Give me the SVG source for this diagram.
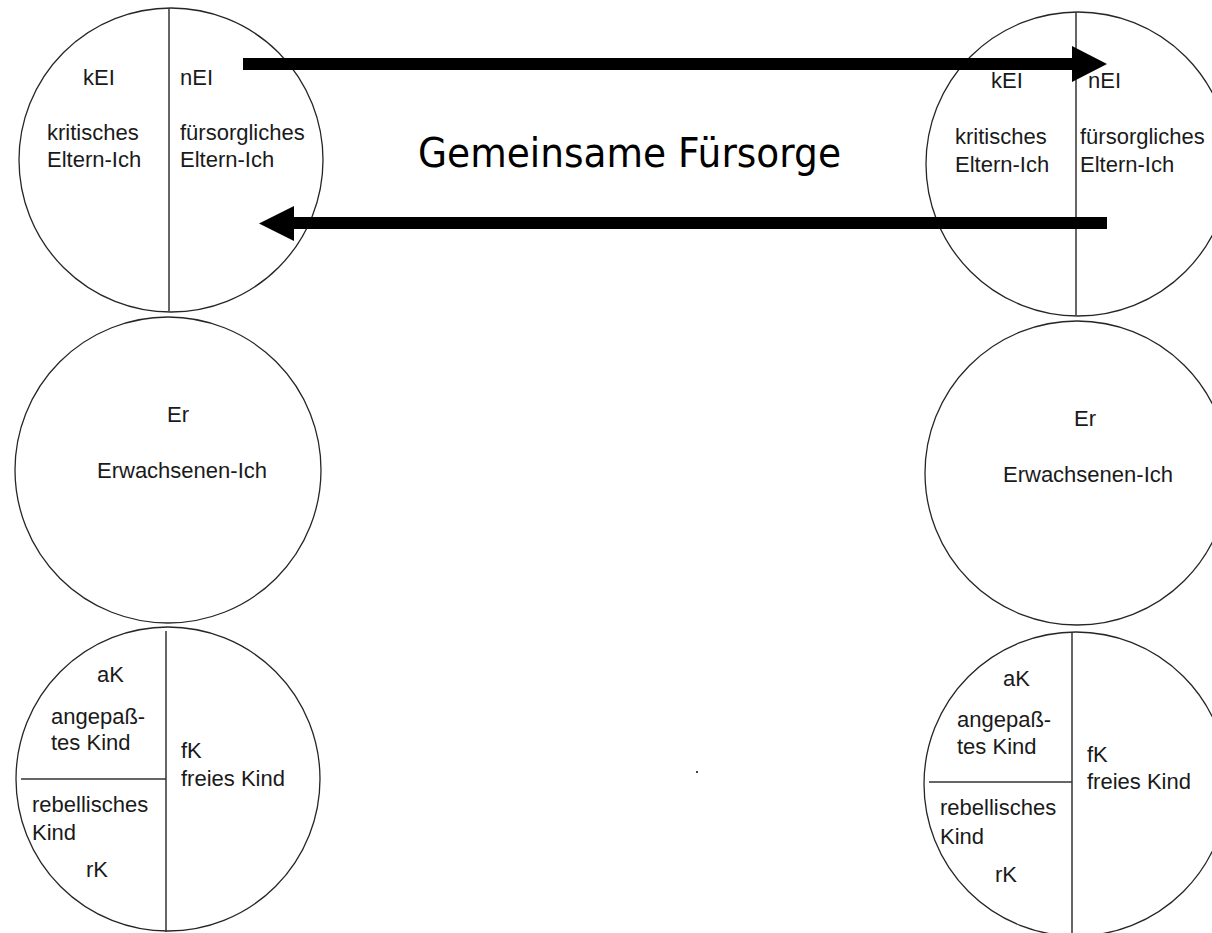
<svg xmlns="http://www.w3.org/2000/svg" width="1212" height="933" viewBox="0 0 1212 933">
<style>
.c{fill:none;stroke:#262626;stroke-width:1.3}
.d{stroke:#333;stroke-width:1.5}
.t{font-family:"Liberation Sans",Arial,sans-serif;font-size:22px;fill:#1a1a1a}
.title{font-family:"DejaVu Sans","Verdana",sans-serif;font-size:40px;fill:#000}
.arr{fill:#000}
</style>
<rect width="1212" height="933" fill="#fff"/>
<g id="left-parent">
<circle class="c" cx="171" cy="160" r="152"/>
<line class="d" x1="169" y1="8" x2="169" y2="311"/>
<text class="t" x="83" y="85">kEI</text>
<text class="t" x="180" y="85">nEI</text>
<text class="t" x="47" y="140">kritisches</text>
<text class="t" x="47" y="167">Eltern-Ich</text>
<text class="t" x="180" y="140">fürsorgliches</text>
<text class="t" x="180" y="167">Eltern-Ich</text>
</g>
<g id="left-adult">
<circle class="c" cx="168" cy="470" r="153"/>
<text class="t" x="167" y="422">Er</text>
<text class="t" x="97" y="478">Erwachsenen-Ich</text>
</g>
<g id="left-child">
<circle class="c" cx="168" cy="779" r="152"/>
<line class="d" x1="166" y1="631" x2="166" y2="932"/>
<line class="d" x1="21" y1="779" x2="166" y2="779"/>
<text class="t" x="97" y="682">aK</text>
<text class="t" x="51" y="724">angepaß-</text>
<text class="t" x="51" y="750">tes Kind</text>
<text class="t" x="181" y="758">fK</text>
<text class="t" x="181" y="786">freies Kind</text>
<text class="t" x="32" y="812">rebellisches</text>
<text class="t" x="32" y="840">Kind</text>
<text class="t" x="86" y="877">rK</text>
</g>
<g id="right-parent">
<circle class="c" cx="1078" cy="164" r="152"/>
<line class="d" x1="1076" y1="12" x2="1076" y2="315"/>
<text class="t" x="991" y="88">kEI</text>
<text class="t" x="1088" y="88">nEI</text>
<text class="t" x="955" y="144">kritisches</text>
<text class="t" x="955" y="172">Eltern-Ich</text>
<text class="t" x="1080" y="144">fürsorgliches</text>
<text class="t" x="1080" y="172">Eltern-Ich</text>
</g>
<g id="right-adult">
<circle class="c" cx="1077" cy="473" r="152"/>
<text class="t" x="1074" y="426">Er</text>
<text class="t" x="1003" y="482">Erwachsenen-Ich</text>
</g>
<g id="right-child">
<circle class="c" cx="1076" cy="784" r="152"/>
<line class="d" x1="1072" y1="633" x2="1072" y2="933"/>
<line class="d" x1="929" y1="782" x2="1072" y2="782"/>
<text class="t" x="1003" y="686">aK</text>
<text class="t" x="957" y="727">angepaß-</text>
<text class="t" x="957" y="754">tes Kind</text>
<text class="t" x="1087" y="762">fK</text>
<text class="t" x="1087" y="789">freies Kind</text>
<text class="t" x="940" y="815">rebellisches</text>
<text class="t" x="940" y="844">Kind</text>
<text class="t" x="995" y="882">rK</text>
</g>
<g id="connectors">
<polygon class="arr" points="243,58 1072,58 1072,46 1107,64 1072,82 1072,70 243,70"/>
<polygon class="arr" points="1107,217 294,217 294,206 259,223.5 294,241 294,229 1107,229"/>
</g>
<g id="label">
<text class="title" x="418" y="167" textLength="423" lengthAdjust="spacingAndGlyphs">Gemeinsame Fürsorge</text>
</g>
<rect x="696" y="771" width="2" height="2" fill="#444"/>
</svg>
